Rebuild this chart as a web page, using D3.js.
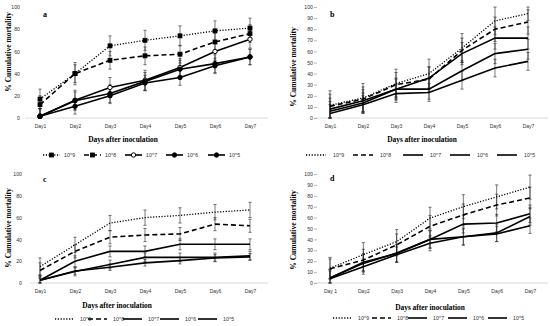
<!DOCTYPE html>
<html>
<head>
<meta charset="utf-8">
<script src="https://cdn.jsdelivr.net/npm/d3@7"></script>
<style>
  body { margin: 0; background: #fff; }
  svg { display: block; }
</style>
</head>
<body>
<svg width="550" height="326"></svg>
<script>
// categories
const days = ["Day1", "Day2", "Day3", "Day4", "Day5", "Day6", "Day7"];
const daysD = ["Day 1", "Day2", "Day3", "Day4", "Day5", "Day6", "Day7"];
const doses = ["10^9", "10^8", "10^7", "10^6", "10^5"];

// panel a: mean % cumulative mortality, rows follow doses
const meanA = [
  [17, 40, 65, 70, 74, 78.5, 81],
  [12, 40, 52, 56, 57.5, 68.5, 76],
  [1.5, 16, 27.5, 34, 45.5, 60, 71],
  [1.5, 15.5, 22, 33, 44, 49, 55],
  [1.5, 10.5, 20, 31.5, 36.5, 47, 55]
];
const errA = [
  [9, 10, 9, 9, 9, 9, 9],
  [8, 8, 8, 8, 8, 8, 8],
  [7, 9, 9, 9, 8, 8, 8],
  [7, 8, 8, 8, 8, 8, 7],
  [7, 7, 7, 7, 7, 7, 7]
];

// panel b
const meanB = [
  [11.5, 18, 31, 40, 63, 87.5, 94],
  [10.5, 17, 30, 35, 61, 80, 86.5],
  [8, 15.5, 26, 36, 58, 72, 72],
  [6, 13.5, 26, 26, 42.5, 58, 62],
  [4, 12, 22, 23, 34, 45, 51]
];
const errB = [
  [13, 13, 13, 13, 13, 12.5, 6],
  [11, 11, 11, 11, 11, 11, 11],
  [10, 10, 10, 10, 10, 10, 10],
  [9, 9, 9, 9, 9, 9, 9],
  [8, 8, 8, 8, 8, 8, 8]
];

// panel c
const meanC = [
  [15, 35, 55, 60, 62, 65, 67],
  [11.5, 29, 42, 44, 45, 54, 52.5],
  [2.5, 20, 29, 29, 35.5, 35.5, 35.5],
  [2.5, 10.5, 17, 23.5, 23.5, 23.5, 25],
  [2.5, 11, 14.5, 18.5, 20.5, 23, 24]
];
const errC = [
  [8, 7, 7, 7, 7, 7, 7],
  [7, 6, 6, 6, 6, 6, 6],
  [5, 5, 5, 5, 5, 5, 5],
  [4, 4, 4, 4, 4, 4, 4],
  [3, 3, 3, 3, 3, 3, 3]
];

// panel d
const meanD = [
  [13.5, 26, 38, 59.5, 70, 79, 88],
  [13, 21, 35, 52, 62.5, 71.5, 78],
  [4.5, 19, 27, 40, 54, 55, 63.5],
  [4.5, 18, 27.5, 40, 42.5, 46, 61],
  [4, 15, 26, 36.5, 42.5, 45, 52.5]
];
const errD = [
  [10, 11, 11, 10, 11, 11, 11],
  [9, 10, 10, 10, 10, 10, 10],
  [8, 8, 8, 8, 8, 8, 8],
  [8, 8, 8, 8, 8, 8, 8],
  [7, 7, 7, 7, 7, 7, 7]
];

// how each dose is drawn
const lineStyle = {
  "10^9": { dash: "1.2,1.6", marker: "square", fill: "#000" },
  "10^8": { dash: "5,3", marker: "square", fill: "#000" },
  "10^7": { dash: null, marker: "circle", fill: "#fff" },
  "10^6": { dash: null, marker: "circle", fill: "#000" },
  "10^5": { dash: null, marker: "circle", fill: "#000" }
};

// layout for the four panels
const panels = [
  {
    letter: "a", mean: meanA, err: errA, labels: days, markers: true,
    top: 7, bottom: 118, x1: 40, x7: 250, axisL: 25, axisR: 268,
    tickX: 20, step: 20, tickMarks: false,
    letterPos: [43, 17], yLab: [8, 52], xTitle: [123, 139],
    legendY: 155, legendX: [43, 84, 125, 166, 208], legLen: 17, legText: 21
  },
  {
    letter: "b", mean: meanB, err: errB, labels: days, markers: false,
    top: 7, bottom: 118, x1: 330, x7: 528, axisL: 314, axisR: 548,
    tickX: 310, step: 10, tickMarks: true,
    letterPos: [330, 17], yLab: [293, 67], xTitle: [422, 139],
    legendY: 155, legendX: [306, 353, 403, 450, 497], legLen: 20, legText: 27
  },
  {
    letter: "c", mean: meanC, err: errC, labels: days, markers: false,
    top: 174, bottom: 283, x1: 40, x7: 250, axisL: 30, axisR: 268,
    tickX: 22, step: 20, tickMarks: false,
    letterPos: [43, 182], yLab: [8, 228], xTitle: [117, 305],
    legendY: 319, legendX: [55, 88, 123, 160, 198], legLen: 19, legText: 25
  },
  {
    letter: "d", mean: meanD, err: errD, labels: daysD, markers: false,
    top: 174, bottom: 283, x1: 330, x7: 530, axisL: 314, axisR: 548,
    tickX: 310, step: 10, tickMarks: true,
    letterPos: [330, 181], yLab: [293, 230], xTitle: [430, 307],
    legendY: 318, legendX: [333, 372, 408, 448, 488], legLen: 19, legText: 25
  }
];

const svg = d3.select("svg");
const serif = "'Liberation Serif', 'Times New Roman', serif";
const sans = "'Liberation Sans', Arial, sans-serif";

const drawMarker = (g, kind, x, y, fill) => {
  if (kind === "square") {
    g.append("rect")
      .attr("x", x - 2).attr("y", y - 2)
      .attr("width", 4).attr("height", 4)
      .attr("fill", fill).attr("stroke", "#000").attr("stroke-width", 0.8);
  } else {
    g.append("circle")
      .attr("cx", x).attr("cy", y).attr("r", 2.2)
      .attr("fill", fill).attr("stroke", "#000").attr("stroke-width", 1);
  }
};

let drawPanel = (p) => {
  const g = svg.append("g");

  const xScale = d3.scalePoint().domain(p.labels).range([p.x1, p.x7]);
  const yScale = d3.scaleLinear().domain([0, 100]).range([p.bottom, p.top]);

  // x axis line
  g.append("line")
    .attr("x1", p.axisL).attr("x2", p.axisR)
    .attr("y1", p.bottom).attr("y2", p.bottom)
    .attr("stroke", "#d0d0d0").attr("stroke-width", 0.8);

  // day labels
  const xAxis = g.append("g")
    .attr("transform", `translate(0,${p.bottom})`)
    .call(d3.axisBottom(xScale).tickSize(0).tickPadding(6));
  xAxis.select(".domain").remove();
  xAxis.selectAll("text")
    .attr("font-family", sans).attr("font-size", 5).attr("fill", "#333");

  // y axis labels
  const yAxis = g.append("g")
    .attr("transform", `translate(${p.tickMarks ? p.tickX + 4 : p.tickX + 1},0)`)
    .call(d3.axisLeft(yScale)
      .tickValues(d3.range(0, 101, p.step))
      .tickSize(0)
      .tickPadding(1));
  yAxis.select(".domain").remove();
  yAxis.selectAll("line")
    .attr("stroke", "#888").attr("stroke-width", 0.6)
    .attr("x2", p.tickMarks ? 3 : 0);
  yAxis.selectAll("text")
    .attr("font-family", sans).attr("font-size", 5.2).attr("fill", "#333");

  // panel letter
  g.append("text")
    .attr("x", p.letterPos[0]).attr("y", p.letterPos[1])
    .attr("font-family", serif).attr("font-weight", "bold").attr("font-size", 8)
    .text(p.letter);

  // axis titles
  g.append("text")
    .attr("transform", `translate(${p.yLab[0]},${p.yLab[1]}) rotate(-90)`)
    .attr("text-anchor", "middle").attr("dominant-baseline", "central")
    .attr("font-family", serif).attr("font-weight", "bold").attr("font-size", 7.6)
    .text("% Cumulative mortality");
  g.append("text")
    .attr("x", p.xTitle[0]).attr("y", p.xTitle[1])
    .attr("text-anchor", "middle").attr("dominant-baseline", "central")
    .attr("font-family", serif).attr("font-weight", "bold").attr("font-size", 7.4)
    .text("Days after inoculation");

  // error bars
  p.mean.forEach((row, s) => {
    row.forEach((v, i) => {
      const x = xScale(p.labels[i]);
      const e = p.err[s][i];
      const y0 = yScale(Math.max(0, v - e));
      const y1 = yScale(Math.min(100, v + e));
      g.append("line")
        .attr("x1", x).attr("x2", x).attr("y1", y0).attr("y2", y1)
        .attr("stroke", "#222").attr("stroke-width", 0.6);
      [y0, y1].forEach((yy) => {
        g.append("line")
          .attr("x1", x - 1.6).attr("x2", x + 1.6).attr("y1", yy).attr("y2", yy)
          .attr("stroke", "#222").attr("stroke-width", 0.6);
      });
    });
  });

  // series lines
  const line = d3.line()
    .x((d, i) => xScale(p.labels[i]))
    .y((d) => yScale(d));

  p.mean.forEach((row, s) => {
    const st = lineStyle[doses[s]];
    g.append("path")
      .attr("d", line(row))
      .attr("fill", "none")
      .attr("stroke", "#000")
      .attr("stroke-width", st.dash && st.dash.startsWith("1") ? 1.3 : 1.6)
      .attr("stroke-dasharray", st.dash);
    if (p.markers) {
      row.forEach((v, i) => drawMarker(g, st.marker, xScale(p.labels[i]), yScale(v), st.fill));
    }
  });

  // legend
  doses.forEach((name, s) => {
    const st = lineStyle[name];
    const lx = p.legendX[s];
    g.append("line")
      .attr("x1", lx).attr("x2", lx + p.legLen)
      .attr("y1", p.legendY).attr("y2", p.legendY)
      .attr("stroke", "#000")
      .attr("stroke-width", st.dash && st.dash.startsWith("1") ? 1.3 : 1.6)
      .attr("stroke-dasharray", st.dash);
    if (p.markers) drawMarker(g, st.marker, lx + p.legLen / 2, p.legendY, st.fill);
    g.append("text")
      .attr("x", lx + p.legText).attr("y", p.legendY)
      .attr("dominant-baseline", "central")
      .attr("font-family", sans).attr("font-size", 5.2).attr("fill", "#333")
      .text(name);
  });
};

panels.forEach(drawPanel);
</script>
</body>
</html>
